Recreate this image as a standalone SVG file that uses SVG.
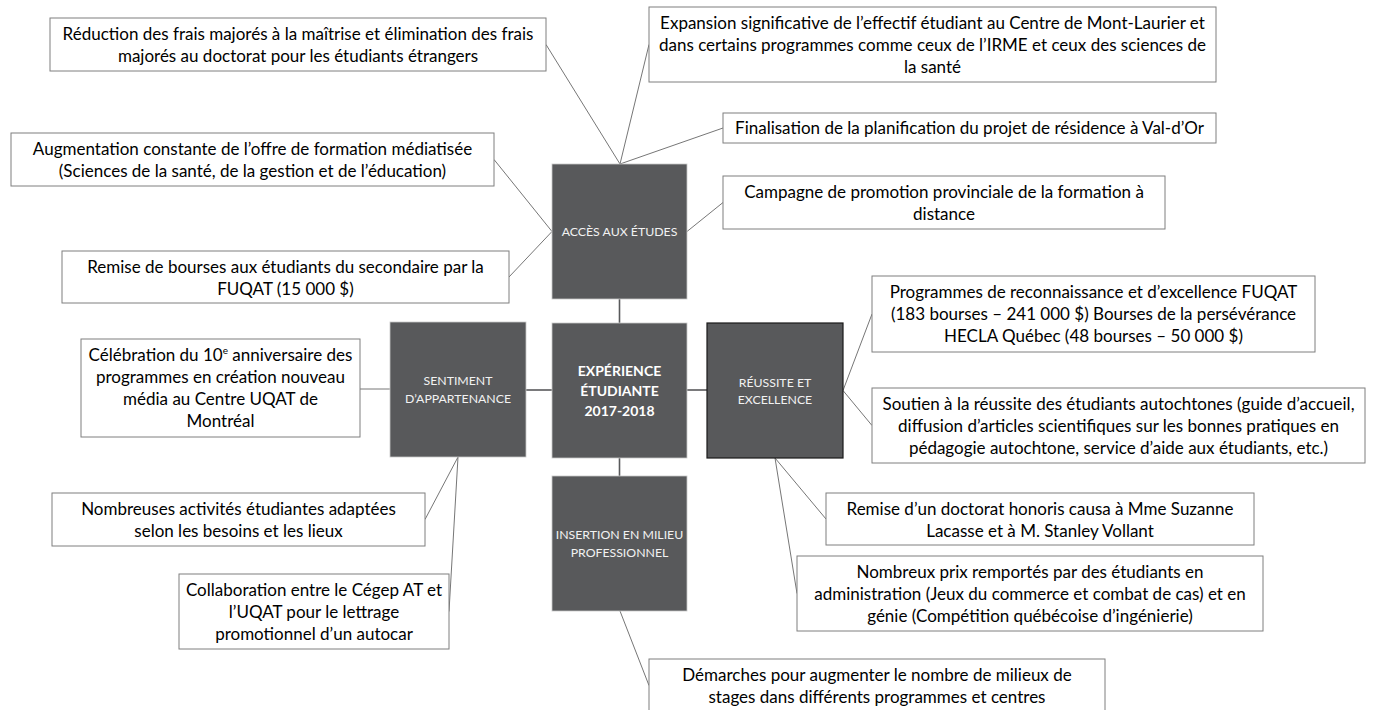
<svg xmlns="http://www.w3.org/2000/svg" width="1376" height="710" viewBox="0 0 1376 710">
<style>
.bg{fill:#ffffff}
.nb rect{fill:#ffffff;stroke:#7f7f7f;stroke-width:1}
.nb text{font-family:Lato,"Liberation Sans",sans-serif;font-size:17px;fill:#000000;text-anchor:middle}
.db rect{fill:#58595b;stroke:#c8c8c8;stroke-width:0.8}
.db text{font-family:Lato,"Liberation Sans",sans-serif;font-size:12.3px;fill:#f2f2f2;text-anchor:middle}
#reussite rect{stroke:#1a1a1a;stroke-width:1.2}
#centre text{font-weight:bold;font-size:14px;fill:#ffffff}
.cn line{stroke:#666666;stroke-width:0.9}
.cn line.hub{stroke:#58595b;stroke-width:1.6}
</style>
<rect class="bg" x="0" y="0" width="1376" height="710"/>
<g class="cn" id="connectors">
<line class="hub" x1="619.5" y1="299" x2="619.5" y2="323"/>
<line class="hub" x1="619.5" y1="458" x2="619.5" y2="476"/>
<line class="hub" x1="526" y1="390" x2="552" y2="390"/>
<line class="hub" x1="687" y1="390" x2="707" y2="390"/>
<line x1="546" y1="44.5" x2="620" y2="164"/>
<line x1="649" y1="44.5" x2="620" y2="164"/>
<line x1="723" y1="128" x2="620" y2="164"/>
<line x1="723" y1="202.5" x2="687" y2="231.5"/>
<line x1="494" y1="159.5" x2="552" y2="231.5"/>
<line x1="509" y1="277" x2="552" y2="231.5"/>
<line x1="360" y1="389" x2="390" y2="389"/>
<line x1="458" y1="457" x2="425" y2="519.5"/>
<line x1="458" y1="457" x2="449" y2="611.5"/>
<line x1="843" y1="390.5" x2="872" y2="314"/>
<line x1="843" y1="390.5" x2="872" y2="425.5"/>
<line x1="775" y1="458" x2="826" y2="519"/>
<line x1="775" y1="458" x2="797" y2="593.5"/>
<line x1="620" y1="611" x2="649" y2="685.5"/>
</g>
<g class="db" id="acces"><rect x="552" y="164" width="135" height="135"/><text x="619.5" y="236">ACCÈS AUX ÉTUDES</text></g>
<g class="db" id="centre"><rect x="552" y="323" width="135" height="135"/><text x="619.5" y="376">EXPÉRIENCE</text><text x="619.5" y="396">ÉTUDIANTE</text><text x="619.5" y="416">2017-2018</text></g>
<g class="db" id="sentiment"><rect x="390" y="322" width="136" height="135"/><text x="458" y="385">SENTIMENT</text><text x="458" y="403">D’APPARTENANCE</text></g>
<g class="db" id="reussite"><rect x="707" y="323" width="136" height="135"/><text x="775" y="386.5">RÉUSSITE ET</text><text x="775" y="403.5">EXCELLENCE</text></g>
<g class="db" id="insertion"><rect x="552" y="476" width="135" height="135"/><text x="619.5" y="539">INSERTION EN MILIEU</text><text x="619.5" y="557">PROFESSIONNEL</text></g>
<g class="nb" id="reduction"><rect x="50" y="18" width="496" height="53"/><text x="298" y="39.5">Réduction des frais majorés à la maîtrise et élimination des frais</text><text x="298" y="61.5">majorés au doctorat pour les étudiants étrangers</text></g>
<g class="nb" id="augmentation"><rect x="11" y="133" width="483" height="53"/><text x="252.5" y="154.5">Augmentation constante de l’offre de formation médiatisée</text><text x="252.5" y="176.5">(Sciences de la santé, de la gestion et de l’éducation)</text></g>
<g class="nb" id="bourses"><rect x="62" y="251" width="447" height="52"/><text x="285.5" y="272.5">Remise de bourses aux étudiants du secondaire par la</text><text x="285.5" y="294.5">FUQAT (15 000 $)</text></g>
<g class="nb" id="celebration"><rect x="81" y="339" width="279" height="98"/><text x="220.5" y="361">Célébration du 10<tspan font-size="10" dy="-7">e</tspan><tspan dy="7"> anniversaire des</tspan></text><text x="220.5" y="383">programmes en création nouveau</text><text x="220.5" y="405">média au Centre UQAT de</text><text x="220.5" y="427">Montréal</text></g>
<g class="nb" id="activites"><rect x="52" y="493" width="373" height="53"/><text x="238.5" y="514.5">Nombreuses activités étudiantes adaptées</text><text x="238.5" y="536.5">selon les besoins et les lieux</text></g>
<g class="nb" id="collaboration"><rect x="179" y="574" width="270" height="75"/><text x="314" y="595.5">Collaboration entre le Cégep AT et</text><text x="314" y="617.5">l’UQAT pour le lettrage</text><text x="314" y="639.5">promotionnel d’un autocar</text></g>
<g class="nb" id="expansion"><rect x="649" y="7" width="567" height="75"/><text x="932.5" y="28.5">Expansion significative de l’effectif étudiant au Centre de Mont-Laurier et</text><text x="932.5" y="50.5">dans certains programmes comme ceux de l’IRME et ceux des sciences de</text><text x="932.5" y="72.5">la santé</text></g>
<g class="nb" id="finalisation"><rect x="723" y="113" width="493" height="30"/><text x="969.5" y="134">Finalisation de la planification du projet de résidence à Val-d’Or</text></g>
<g class="nb" id="campagne"><rect x="723" y="176" width="442" height="53"/><text x="944" y="197.5">Campagne de promotion provinciale de la formation à</text><text x="944" y="219.5">distance</text></g>
<g class="nb" id="programmes"><rect x="872" y="276" width="443" height="76"/><text x="1093.5" y="297.5">Programmes de reconnaissance et d’excellence FUQAT</text><text x="1093.5" y="319.5">(183 bourses – 241 000 $) Bourses de la persévérance</text><text x="1093.5" y="341.5">HECLA Québec (48 bourses – 50 000 $)</text></g>
<g class="nb" id="soutien"><rect x="872" y="388" width="493" height="75"/><text x="1118.5" y="409.5">Soutien à la réussite des étudiants autochtones (guide d’accueil,</text><text x="1118.5" y="431.5">diffusion d’articles scientifiques sur les bonnes pratiques en</text><text x="1118.5" y="453.5">pédagogie autochtone, service d’aide aux étudiants, etc.)</text></g>
<g class="nb" id="doctorat"><rect x="826" y="493" width="428" height="52"/><text x="1040" y="514.5">Remise d’un doctorat honoris causa à Mme Suzanne</text><text x="1040" y="536.5">Lacasse et à M. Stanley Vollant</text></g>
<g class="nb" id="prix"><rect x="797" y="556" width="466" height="75"/><text x="1030" y="577.5">Nombreux prix remportés par des étudiants en</text><text x="1030" y="599.5">administration (Jeux du commerce et combat de cas) et en</text><text x="1030" y="621.5">génie (Compétition québécoise d’ingénierie)</text></g>
<g class="nb" id="demarches"><rect x="649" y="659" width="456" height="53"/><text x="877" y="680.5">Démarches pour augmenter le nombre de milieux de</text><text x="877" y="702.5">stages dans différents programmes et centres</text></g>
</svg>
